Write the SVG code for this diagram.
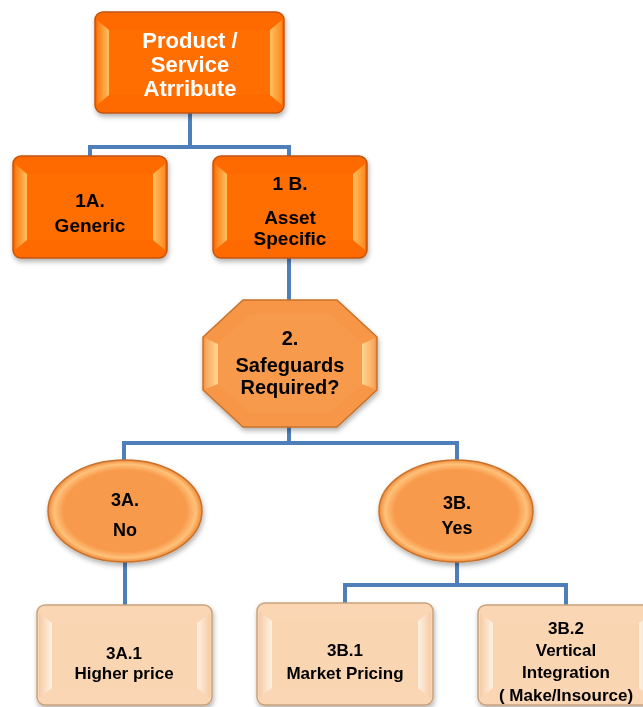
<svg xmlns="http://www.w3.org/2000/svg" width="643" height="707" viewBox="0 0 643 707">
<style>
.t{font-family:"Liberation Sans",Arial,sans-serif;font-weight:bold;text-anchor:middle}
.w{fill:#ffffff;font-size:22px}
.k{fill:#000000}
.s19{font-size:19px}
.s20{font-size:20px}
.s18{font-size:18px}
.s17{font-size:17px}
.conn{fill:none;stroke:#4F7FBA;stroke-width:4}
.dark{fill:#FF6A00;stroke:#C4550A;stroke-width:1.5}
.darkIn{fill:#FF6E05}
.mid{fill:#F79646;stroke:#C7722C;stroke-width:1.5}
.midIn{fill:#F89A4C}
.lite{fill:#FBD6B4;stroke:#C9A27C;stroke-width:1.5}
.liteIn{fill:#FAD5B2}
</style>
<defs>
<filter id="sh" x="-10%" y="-10%" width="125%" height="130%">
<feDropShadow dx="1" dy="3" stdDeviation="2.5" flood-color="#000" flood-opacity="0.3"/>
</filter>
<linearGradient id="bevL" x1="0" y1="0" x2="1" y2="0">
<stop offset="0" stop-color="#FF7A10"/><stop offset="1" stop-color="#FFC060"/>
</linearGradient>
<linearGradient id="bevR" x1="0" y1="0" x2="1" y2="0">
<stop offset="0" stop-color="#FFC060"/><stop offset="1" stop-color="#FF8A20"/>
</linearGradient>
<linearGradient id="bevL2" x1="0" y1="0" x2="1" y2="0">
<stop offset="0" stop-color="#F9A35C"/><stop offset="1" stop-color="#FFD890"/>
</linearGradient>
<linearGradient id="bevR2" x1="0" y1="0" x2="1" y2="0">
<stop offset="0" stop-color="#FFD890"/><stop offset="1" stop-color="#F9A35C"/>
</linearGradient>
<linearGradient id="bevL3" x1="0" y1="0" x2="1" y2="0">
<stop offset="0" stop-color="#F5CBA6"/><stop offset="1" stop-color="#FFF2E4"/>
</linearGradient>
<linearGradient id="bevR3" x1="0" y1="0" x2="1" y2="0">
<stop offset="0" stop-color="#FFF2E4"/><stop offset="1" stop-color="#F5CBA6"/>
</linearGradient>
<radialGradient id="ell" cx="0.5" cy="0.5" r="0.5">
<stop offset="0.8" stop-color="#F89A4C"/><stop offset="0.92" stop-color="#FFC27A"/><stop offset="1" stop-color="#F08A3A"/>
</radialGradient>
</defs>

<g id="connectors">
<path class="conn" d="M190 113 V147 M90 147 H289 M90 145 V156 M289 145 V156"/>
<path class="conn" d="M289 258 V300"/>
<path class="conn" d="M289 427 V443 M124 443 H457 M124 441 V461 M457 441 V461"/>
<path class="conn" d="M125 562 V605"/>
<path class="conn" d="M457 562 V585 M345 585 H566 M345 583 V604 M566 583 V606"/>
</g>

<g id="n_root" filter="url(#sh)">
<rect class="dark" x="95" y="12" width="189" height="101" rx="8"/>
<polygon fill="url(#bevL)" points="97,20 109,30 109,95 97,105"/>
<polygon fill="url(#bevR)" points="282,20 270,30 270,95 282,105"/>
<rect class="darkIn" x="109" y="30" width="161" height="65"/>
<text class="t w" x="190" y="48">Product /</text>
<text class="t w" x="190" y="72">Service</text>
<text class="t w" x="190" y="96">Atrribute</text>
</g>

<g id="n_1a" filter="url(#sh)">
<rect class="dark" x="13" y="156" width="154" height="102" rx="8"/>
<polygon fill="url(#bevL)" points="15,164 27,174 27,240 15,250"/>
<polygon fill="url(#bevR)" points="165,164 153,174 153,240 165,250"/>
<rect class="darkIn" x="27" y="174" width="126" height="66"/>
<text class="t k s19" x="90" y="207">1A.</text>
<text class="t k s19" x="90" y="232">Generic</text>
</g>

<g id="n_1b" filter="url(#sh)">
<rect class="dark" x="213" y="156" width="154" height="102" rx="8"/>
<polygon fill="url(#bevL)" points="215,164 227,174 227,240 215,250"/>
<polygon fill="url(#bevR)" points="365,164 353,174 353,240 365,250"/>
<rect class="darkIn" x="227" y="174" width="126" height="66"/>
<text class="t k s19" x="290" y="190">1 B.</text>
<text class="t k s19" x="290" y="224">Asset</text>
<text class="t k s19" x="290" y="245">Specific</text>
</g>

<g id="n_2" filter="url(#sh)">
<polygon class="mid" points="243,300 337,300 377,337 377,390 337,427 243,427 203,390 203,337"/>
<polygon fill="url(#bevL2)" points="205,338 218,344 218,384 205,389"/>
<polygon fill="url(#bevR2)" points="362,344 375,338 375,389 362,384"/>
<polygon class="midIn" points="250,314 330,314 362,344 362,384 330,413 250,413 218,384 218,344"/>
<text class="t k s20" x="290" y="345">2.</text>
<text class="t k s20" x="290" y="372">Safeguards</text>
<text class="t k s20" x="290" y="394">Required?</text>
</g>

<g id="n_3a" filter="url(#sh)">
<ellipse cx="125" cy="511" rx="77" ry="51" fill="url(#ell)" stroke="#C7722C" stroke-width="1.5"/>
<text class="t k s18" x="125" y="506">3A.</text>
<text class="t k s18" x="125" y="536">No</text>
</g>

<g id="n_3b" filter="url(#sh)">
<ellipse cx="456" cy="511" rx="77" ry="51" fill="url(#ell)" stroke="#C7722C" stroke-width="1.5"/>
<text class="t k s18" x="457" y="509">3B.</text>
<text class="t k s18" x="457" y="534">Yes</text>
</g>

<g id="n_3a1" filter="url(#sh)">
<rect class="lite" x="37" y="605" width="175" height="100" rx="8"/>
<polygon fill="url(#bevL3)" points="39,613 52,623 52,688 39,698"/>
<polygon fill="url(#bevR3)" points="210,613 197,623 197,688 210,698"/>
<rect class="liteIn" x="52" y="623" width="145" height="65"/>
<text class="t k s17" x="124" y="659">3A.1</text>
<text class="t k s17" x="124" y="679">Higher price</text>
</g>

<g id="n_3b1" filter="url(#sh)">
<rect class="lite" x="257" y="603" width="176" height="102" rx="8"/>
<polygon fill="url(#bevL3)" points="259,611 272,621 272,688 259,698"/>
<polygon fill="url(#bevR3)" points="431,611 418,621 418,688 431,698"/>
<rect class="liteIn" x="272" y="621" width="146" height="67"/>
<text class="t k s17" x="345" y="656">3B.1</text>
<text class="t k s17" x="345" y="679">Market Pricing</text>
</g>

<g id="n_3b2" filter="url(#sh)">
<rect class="lite" x="478" y="605" width="176" height="100" rx="8"/>
<polygon fill="url(#bevL3)" points="480,613 493,623 493,688 480,698"/>
<polygon fill="url(#bevR3)" points="652,613 639,623 639,688 652,698"/>
<rect class="liteIn" x="493" y="623" width="146" height="65"/>
<text class="t k s17" x="566" y="634">3B.2</text>
<text class="t k s17" x="566" y="656">Vertical</text>
<text class="t k s17" x="566" y="678">Integration</text>
<text class="t k s17" x="566" y="701">( Make/Insource)</text>
</g>
</svg>
